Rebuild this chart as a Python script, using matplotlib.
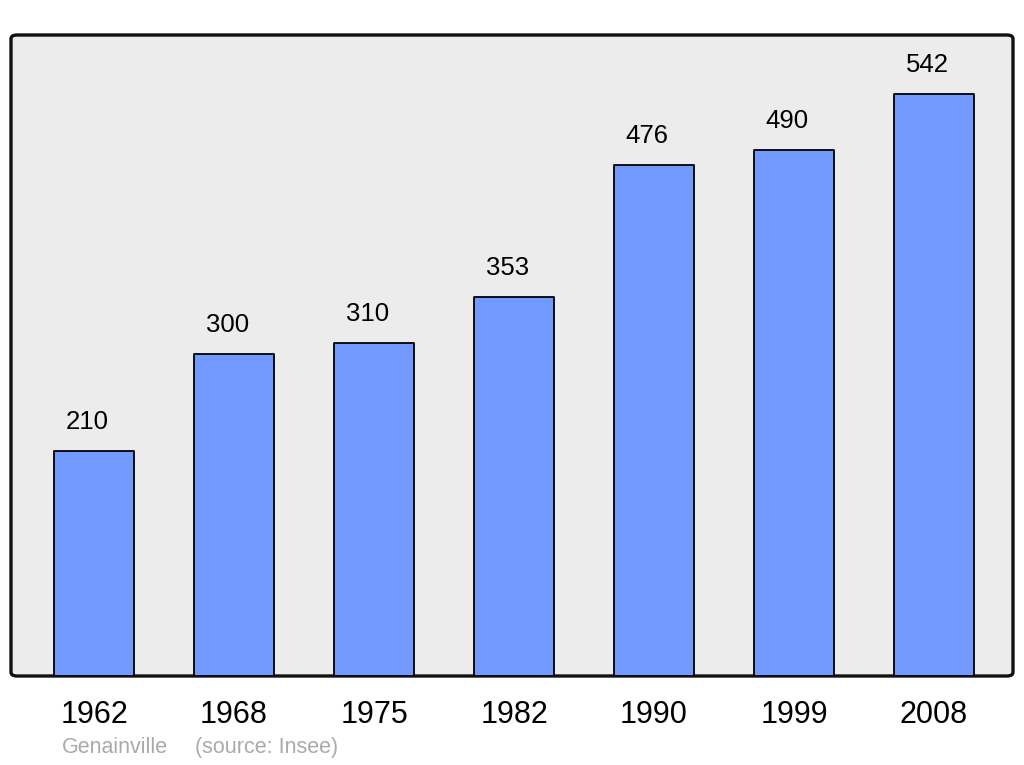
import matplotlib.pyplot as plt
from matplotlib.patches import FancyBboxPatch
import numpy as np

plt.rcParams['font.family'] = ['Liberation Sans', 'DejaVu Sans']

# Population data (Genainville)
years = ['1962', '1968', '1975', '1982', '1990', '1999', '2008']
population = [210, 300, 310, 353, 476, 490, 542]

fig = plt.figure(figsize=(10.24, 7.65), dpi=100)
# axes frame: x 11..1013, y 35..676 px
ax = fig.add_axes([11 / 1024, 1 - 676 / 765, 1002 / 1024, 641 / 765])
ax.set_facecolor('none')

# rounded frame with grey background
frame = FancyBboxPatch((0, 0), 1, 1, boxstyle='round,pad=0,rounding_size=0.006',
                       transform=ax.transAxes, facecolor='#ececec', edgecolor='#111111',
                       linewidth=2.4, clip_on=False, zorder=0)
ax.add_patch(frame)

x = np.arange(len(years))
bars = ax.bar(x, population, width=0.571, color='#7199ff', edgecolor='black', linewidth=1.3, zorder=2)
for b in bars:
    b.set_joinstyle('round')

for xi, v in zip(x, population):
    ax.annotate(str(v), (xi, v), xytext=(-5, 12), textcoords='offset points',
                ha='center', va='bottom', fontsize=18.5, color='black')

ax.set_xlim(-0.593, 6.564)
ax.set_ylim(0, 597)
ax.set_yticks([])
ax.set_xticks(x)
ax.set_xticklabels(years, fontsize=22)
ax.tick_params(axis='x', length=0, pad=17)

for s in ax.spines.values():
    s.set_visible(False)

fig.text(62 / 1024, 1 - 753 / 765, 'Genainville', fontsize=15.5, color='#aaaaaa', va='baseline', ha='left')
fig.text(195 / 1024, 1 - 753 / 765, '(source: Insee)', fontsize=15.5, color='#aaaaaa', va='baseline', ha='left')

fig.savefig('out.png', dpi=100)
